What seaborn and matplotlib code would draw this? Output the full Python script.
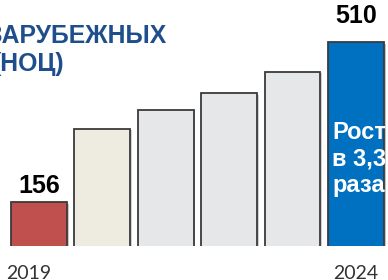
import matplotlib
matplotlib.use("Agg")
import matplotlib.pyplot as plt
import matplotlib.patheffects as pe
import pandas as pd
import seaborn as sns

# Data
years = ["2019", "2020", "2021", "2022", "2023", "2024"]
values = [156, 318, 360, 397, 444, 510]
colors = ["#C0504D", "#EEECE1", "#E6E7E9", "#E6E7E9", "#E6E7E9", "#0070C0"]
shown_labels = ["156", "", "", "", "", "510"]
title_lines = ["ЗАРУБЕЖНЫХ", "(НОЦ)"]
growth_text = "Рост\nв 3,3\nраза"

df = pd.DataFrame({"year": years, "value": values})

sns.set_style("white")
plt.rcParams["font.family"] = ["Liberation Sans", "DejaVu Sans"]

fig = plt.figure(figsize=(3.88, 2.80), dpi=100)
ax = fig.add_axes([0, 34 / 280, 1, 246 / 280])

sns.barplot(data=df, x="year", y="value", hue="year", palette=colors,
            legend=False, width=0.88, edgecolor="#3A3A3A", linewidth=1.3,
            saturation=1, ax=ax)
for bar in ax.patches:
    bar.set_path_effects([pe.SimplePatchShadow(offset=(1.2, -1.2), alpha=0.25),
                          pe.Normal()])

ax.set_xlim(-0.615, 5.505)
ax.set_ylim(58.6, 602.9)
ax.set_axis_off()

# value labels above first and last bars
for i, c in enumerate(ax.containers):
    lab = shown_labels[i]
    if lab:
        pad = 3 if i == 0 else 10
        ax.bar_label(c, labels=[lab], padding=pad, fontsize=18,
                     fontweight="bold", color="black")

# text inside the last bar
ax.text(5.05, 251, growth_text, ha="center", va="center", color="white",
        fontsize=17, fontweight="bold", linespacing=1.2)

# year labels
xt = ax.get_xaxis_transform()
ax.text(-0.17, -33 / 246, years[0], transform=xt, ha="center", va="baseline",
        fontsize=14, color="#333333", family="Lato", clip_on=False)
ax.text(5, -33 / 246, years[-1], transform=xt, ha="center", va="baseline",
        fontsize=14, color="#333333", family="Lato", clip_on=False)

# title, cropped on the left like in the reference
fig.text(167 / 388, 1 - 43.3 / 280, title_lines[0], ha="right", va="baseline",
         fontsize=17.8, fontweight="bold", color="#1F4E8C")
fig.text(64 / 388, 1 - 71 / 280, title_lines[1], ha="right", va="baseline",
         fontsize=17.8, fontweight="bold", color="#1F4E8C")

fig.savefig("out.png", dpi=100)
